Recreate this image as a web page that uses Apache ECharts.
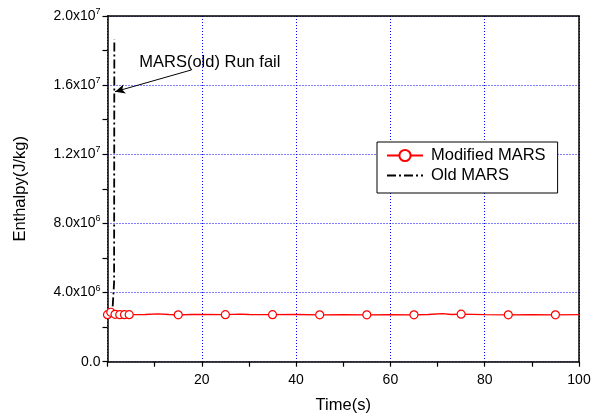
<!DOCTYPE html>
<html>
<head>
<meta charset="utf-8">
<script src="https://cdn.jsdelivr.net/npm/echarts@6/dist/echarts.min.js"></script>
<style>html,body{margin:0;padding:0;background:#fff;}#c{width:599px;height:414px;}</style>
</head>
<body>
<div id="c"></div>
<script>
// Data
var seriesNames = ['Modified MARS', 'Old MARS'];
var modX = [0, 0.7, 1.6, 2.6, 3.6, 4.6, 8, 10.7, 13, 15, 18, 20, 25, 28, 30, 35, 40, 45, 50, 55, 60, 65, 68, 71, 73, 75, 80, 85, 90, 95, 100];
var modY = [2.72e6, 2.86e6, 2.74e6, 2.72e6, 2.72e6, 2.72e6, 2.73e6, 2.77e6, 2.73e6, 2.71e6, 2.73e6, 2.74e6, 2.72e6, 2.75e6, 2.73e6, 2.72e6, 2.73e6, 2.71e6, 2.72e6, 2.71e6, 2.72e6, 2.71e6, 2.73e6, 2.78e6, 2.73e6, 2.75e6, 2.72e6, 2.71e6, 2.72e6, 2.71e6, 2.72e6];
var modMarkers = [0, 0.7, 1.6, 2.6, 3.6, 4.6, 15, 25, 35, 45, 55, 65, 75, 85, 95];
var oldX = [1.1, 1.4, 1.45];
var oldY = [3.2e6, 4.6e6, 1.865e7];
var yTickLabels = {0: '0.0', 4000000: '4.0x10|6', 8000000: '8.0x10|6', 12000000: '1.2x10|7', 16000000: '1.6x10|7', 20000000: '2.0x10|7'};
var annotText = 'MARS(old) Run fail';
var annotPos = [21.7, 1.73e7];
var arrowFrom = [17.8, 1.688e7];
var arrowTo = [1.6, 1.562e7];

var FONT = 'Liberation Sans, Arial, sans-serif';

var modData = modX.map(function (x, i) {
  var item = { value: [x, modY[i]] };
  if (modMarkers.indexOf(x) < 0) item.symbol = 'none';
  return item;
});
var oldData = oldX.map(function (x, i) { return [x, oldY[i]]; });

var chart = echarts.init(document.getElementById('c'));
chart.setOption({
  animation: false,
  backgroundColor: '#fff',
  grid: { left: 107.5, right: 20, top: 16, bottom: 52.3, containLabel: false, outerBoundsMode: 'none' },
  legend: {
    data: seriesNames,
    orient: 'vertical',
    left: 377, top: 142,
    itemWidth: 36, itemHeight: 14, itemGap: 3,
    padding: [5, 12, 9, 9],
    backgroundColor: '#fff',
    borderColor: '#000', borderWidth: 1, borderRadius: 0,
    textStyle: { fontFamily: FONT, fontSize: 16.5, color: '#000', lineHeight: 16, padding: [0, 0, 0, 3] }
  },
  xAxis: [{
    type: 'value', min: 0, max: 100, interval: 20,
    name: 'Time(s)', nameLocation: 'middle', nameGap: 35,
    nameTextStyle: { fontFamily: FONT, fontSize: 16.5, color: '#000' },
    axisLine: { onZero: false, lineStyle: { color: '#000', width: 1.5 } },
    axisTick: { show: true, length: 5, lineStyle: { color: '#000', width: 1.2 } },
    minorTick: { show: true, splitNumber: 2, length: 5, lineStyle: { color: '#000', width: 1.2 } },
    axisLabel: { margin: 11, fontFamily: FONT, fontSize: 14, color: '#000',
      formatter: function (v) { return v === 0 ? '' : String(v); } },
    splitLine: { show: true, lineStyle: { color: '#0000ff', type: [1, 2], width: 1 } }
  }, {
    type: 'value', min: 0, max: 100, position: 'top',
    axisLine: { show: true, onZero: false, lineStyle: { color: '#000', width: 1.5 } },
    axisTick: { show: false }, axisLabel: { show: false }, splitLine: { show: false }
  }],
  yAxis: [{
    type: 'value', min: 0, max: 2e7, interval: 4e6,
    name: 'Enthalpy(J/kg)', nameLocation: 'middle', nameGap: 79,
    nameTextStyle: { fontFamily: FONT, fontSize: 16.5, color: '#000' },
    axisLine: { show: true, onZero: false, lineStyle: { color: '#000', width: 1.5 } },
    axisTick: { show: true, length: 5, lineStyle: { color: '#000', width: 1.2 } },
    minorTick: { show: true, splitNumber: 2, length: 5, lineStyle: { color: '#000', width: 1.2 } },
    axisLabel: {
      margin: 7, fontFamily: FONT, fontSize: 14, color: '#000',
      formatter: function (v) {
        var s = yTickLabels[v];
        if (s === undefined) return '';
        var p = s.split('|');
        if (p.length === 1) return '{b|' + p[0] + '}';
        return '{b|' + p[0] + '}{s|' + p[1] + '}';
      },
      rich: {
        b: { fontFamily: FONT, fontSize: 14, color: '#000' },
        s: { fontFamily: FONT, fontSize: 9, color: '#000', padding: [0, 0, 9, 0] }
      }
    },
    splitLine: { show: true, lineStyle: { color: '#0000ff', type: [1, 2], width: 1 } }
  }, {
    type: 'value', min: 0, max: 2e7, position: 'right',
    axisLine: { show: true, onZero: false, lineStyle: { color: '#000', width: 1.5 } },
    axisTick: { show: false }, axisLabel: { show: false }, splitLine: { show: false }
  }],
  series: [{
    name: seriesNames[0], type: 'line', data: modData,
    symbol: 'circle', symbolSize: 8, showAllSymbol: true,
    lineStyle: { color: '#ff0000', width: 1.3 },
    itemStyle: { color: '#fff', borderColor: '#ff0000', borderWidth: 1.2 },
    z: 3
  }, {
    name: seriesNames[1], type: 'line', data: oldData,
    symbol: 'circle', symbolSize: 0, showSymbol: false,
    lineStyle: { color: '#000', width: 1.8, type: [9, 3, 2, 3] },
    itemStyle: { color: 'rgba(0,0,0,0)', borderWidth: 0 },
    z: 4,
    markLine: {
      silent: true, symbol: ['none', 'arrow'], symbolSize: [7, 10],
      label: { show: false },
      lineStyle: { color: '#000', width: 1, type: 'solid' },
      itemStyle: { color: '#000' },
      data: [[{ coord: arrowFrom }, { coord: arrowTo }]]
    },
    markPoint: {
      silent: true, symbol: 'rect', symbolSize: 1, itemStyle: { color: 'rgba(0,0,0,0)' },
      label: { show: true, position: 'inside', fontFamily: FONT, fontSize: 16.5, color: '#000',
        formatter: function () { return annotText; } },
      data: [{ coord: annotPos }]
    }
  }]
});
</script>
</body>
</html>
